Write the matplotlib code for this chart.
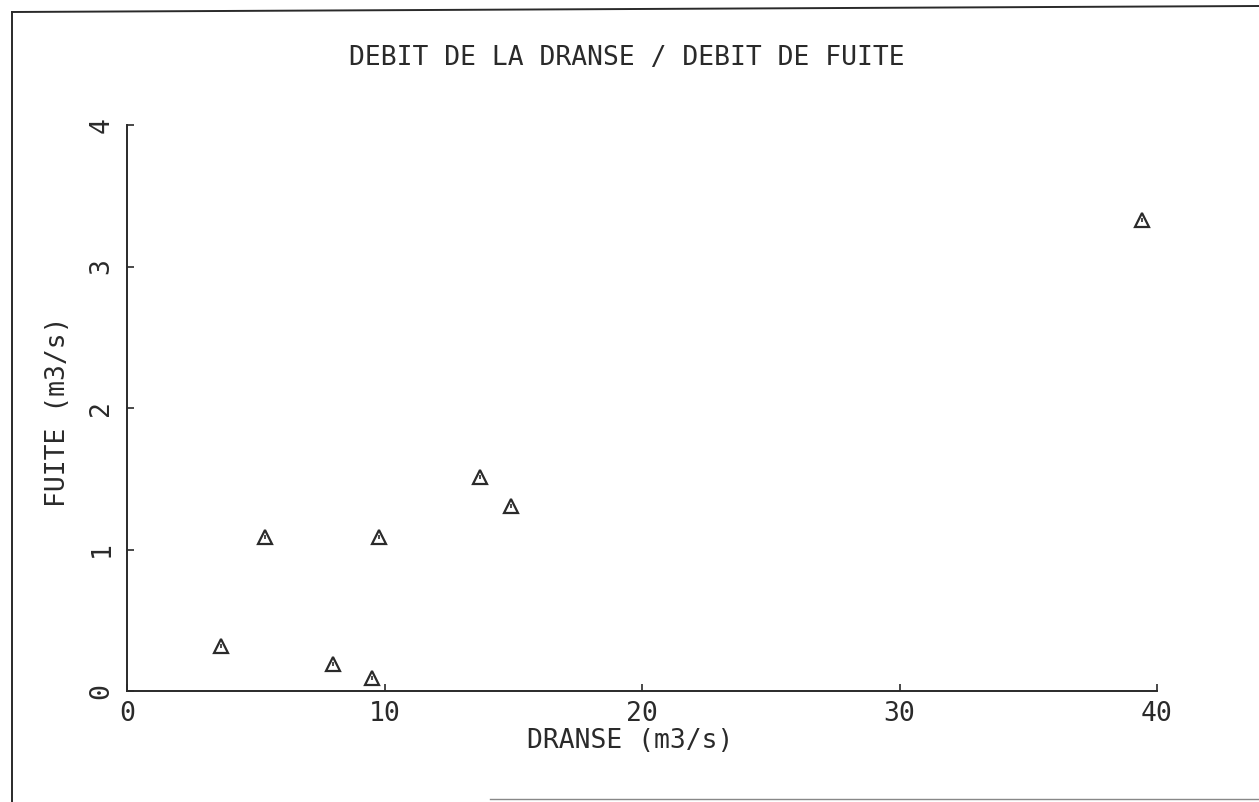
import matplotlib
matplotlib.use("Agg")
import matplotlib.pyplot as plt
from matplotlib.lines import Line2D

# Data
dranse = [3.65, 5.36, 8.0, 9.5, 9.79, 13.7, 14.9, 39.4]
fuite = [0.32, 1.09, 0.19, 0.09, 1.09, 1.51, 1.31, 3.33]
x_ticks = [0, 10, 20, 30, 40]
y_ticks = [0, 1, 2, 3, 4]

title = "DEBIT DE LA DRANSE / DEBIT DE FUITE"
xlabel = "DRANSE (m3/s)"
ylabel = "FUITE (m3/s)"

ink = "#2a2a2a"
font = "DejaVu Sans Mono"
fs = 19

fig = plt.figure(figsize=(12.59, 8.02), dpi=100)
fig.patch.set_facecolor("white")
ax = fig.add_axes([127/1259, 1-691/802, (1157-127)/1259, (691-125)/802])

ax.plot(dranse, fuite, linestyle="none", marker="^", markersize=10,
        markerfacecolor="none", markeredgecolor=ink, markeredgewidth=1.6)
ax.plot(dranse, fuite, linestyle="none", marker="|", markersize=3.5,
        markeredgecolor=ink, markeredgewidth=1.2)

ax.set_xlim(0, 40)
ax.set_ylim(0, 4)
ax.set_xticks(x_ticks)
ax.set_yticks(y_ticks)
ax.set_xticklabels([str(v) for v in x_ticks], fontfamily=font, fontsize=fs, color=ink)
ax.set_yticklabels([str(v) for v in y_ticks], fontfamily=font, fontsize=fs, color=ink,
                   rotation=90, va="center")
ax.tick_params(axis="x", direction="in", length=5, width=1.2, color=ink, pad=7)
ax.tick_params(axis="y", direction="in", length=5, width=1.2, color=ink, pad=9)
for s in ["top", "right"]:
    ax.spines[s].set_visible(False)
for s in ["left", "bottom"]:
    ax.spines[s].set_color(ink)
    ax.spines[s].set_linewidth(1.4)

fig.text(627/1259, 1-58/802, title, fontfamily=font, fontsize=fs, color=ink,
         ha="center", va="center")
fig.text(630/1259, 1-741/802, xlabel, fontfamily=font, fontsize=fs, color=ink,
         ha="center", va="center")
fig.text(58/1259, 1-412/802, ylabel, fontfamily=font, fontsize=fs, color=ink,
         ha="center", va="center", rotation=90)

# Page border lines
fig.add_artist(Line2D([12/1259, 12/1259], [0, 1-12/802], transform=fig.transFigure,
                      color=ink, lw=1.4))
fig.add_artist(Line2D([12/1259, 1], [1-12/802, 1-6/802], transform=fig.transFigure,
                      color=ink, lw=1.4))
fig.add_artist(Line2D([490/1259, 1], [1-799/802, 1-799/802], transform=fig.transFigure,
                      color="#888888", lw=1.0))

fig.savefig("out.png", dpi=100, facecolor="white")
